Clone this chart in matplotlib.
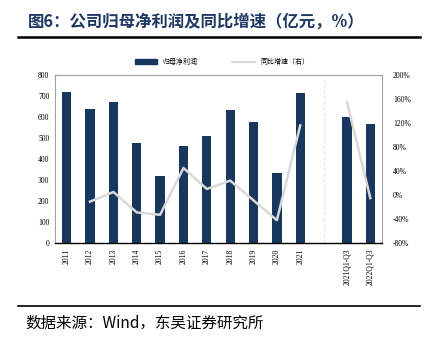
import matplotlib
matplotlib.use("Agg")
import matplotlib.pyplot as plt
import numpy as np
from matplotlib.patches import Patch
from matplotlib.lines import Line2D
from matplotlib.ticker import FuncFormatter

plt.rcParams['font.family'] = ['Liberation Serif', 'Noto Sans CJK SC', 'DejaVu Sans']

categories = ['2011', '2012', '2013', '2014', '2015', '2016', '2017', '2018', '2019', '2020', '2021', '', '2021Q1-Q3', '2022Q1-Q3']
profit = [719, 638, 671, 476, 319, 462, 510, 633, 576, 333, 714, None, 600, 567]
growth = [None, -11, 5, -29, -33, 45, 10, 24, -9, -42, 116, None, 155, -5]

bar_color = '#17375e'
line_color = '#d9d9d9'
title_color = '#1f3864'

fig = plt.figure(figsize=(4.25, 3.4), dpi=100)
ax = fig.add_axes([55/425, 1 - 243/340, (382 - 55)/425, (243 - 75)/340])
x = np.arange(len(categories))
bx = [xi for xi, v in zip(x, profit) if v is not None]
bv = [v for v in profit if v is not None]
ax.bar(bx, bv, width=0.4, color=bar_color, zorder=2)
ax.set_ylim(0, 800)
ax.set_yticks(range(0, 801, 100))
ax.set_xlim(-0.5, len(categories) - 0.5)
ax.set_xticks(x)
ax.set_xticklabels(categories, rotation=90, fontsize=5.5)
ax.tick_params(axis='both', length=0, labelsize=5.5, pad=4)
for s in ['top', 'right', 'left']:
    ax.spines[s].set_color('#a0a0a0')
    ax.spines[s].set_linewidth(0.8)
ax.spines['bottom'].set_color('black')
ax.spines['bottom'].set_linewidth(1.0)
ax.axvline(11, color='#e6e6e6', linestyle=(0, (3, 2)), linewidth=0.8, ymax=0.97, zorder=1)

ax2 = ax.twinx()
g = np.array([np.nan if v is None else v for v in growth], dtype=float)
ax2.plot(x, g, color=line_color, linewidth=1.8, zorder=3)
ax2.set_ylim(-80, 200)
ax2.set_yticks(range(-80, 201, 40))
ax2.yaxis.set_major_formatter(FuncFormatter(lambda v, p: f"{int(v)}%"))
ax2.tick_params(axis='y', length=0, labelsize=5.5, pad=8)
for s in ax2.spines.values():
    s.set_visible(False)

handles = [Patch(color=bar_color), Line2D([0], [0], color=line_color, linewidth=1.5)]
fig.legend(handles, ['归母净利润', '同比增速（右）'], loc='center', bbox_to_anchor=(222/425, 1 - 62/340),
           ncol=2, frameon=False, prop={'family': ['Noto Sans CJK SC'], 'size': 5},
           handlelength=3.2, handleheight=0.6, columnspacing=5)

fig.text(28/425, 1 - 22/340, '图6：公司归母净利润及同比增速（亿元，%）', family=['Noto Sans CJK SC'],
         fontsize=11.8, fontweight='bold', color=title_color, va='center', ha='left')
fig.add_artist(Line2D([18/425, 420/425], [1 - 37/340, 1 - 37/340], color='black', linewidth=1.8))
fig.add_artist(Line2D([18/425, 420/425], [1 - 306/340, 1 - 306/340], color='black', linewidth=1.2))
fig.text(25/425, 1 - 323/340, '数据来源：Wind，东吴证券研究所', family=['Noto Sans CJK SC', 'Liberation Serif'],
         fontsize=11.2, color='black', va='center', ha='left')

fig.savefig('out.png', dpi=100)
